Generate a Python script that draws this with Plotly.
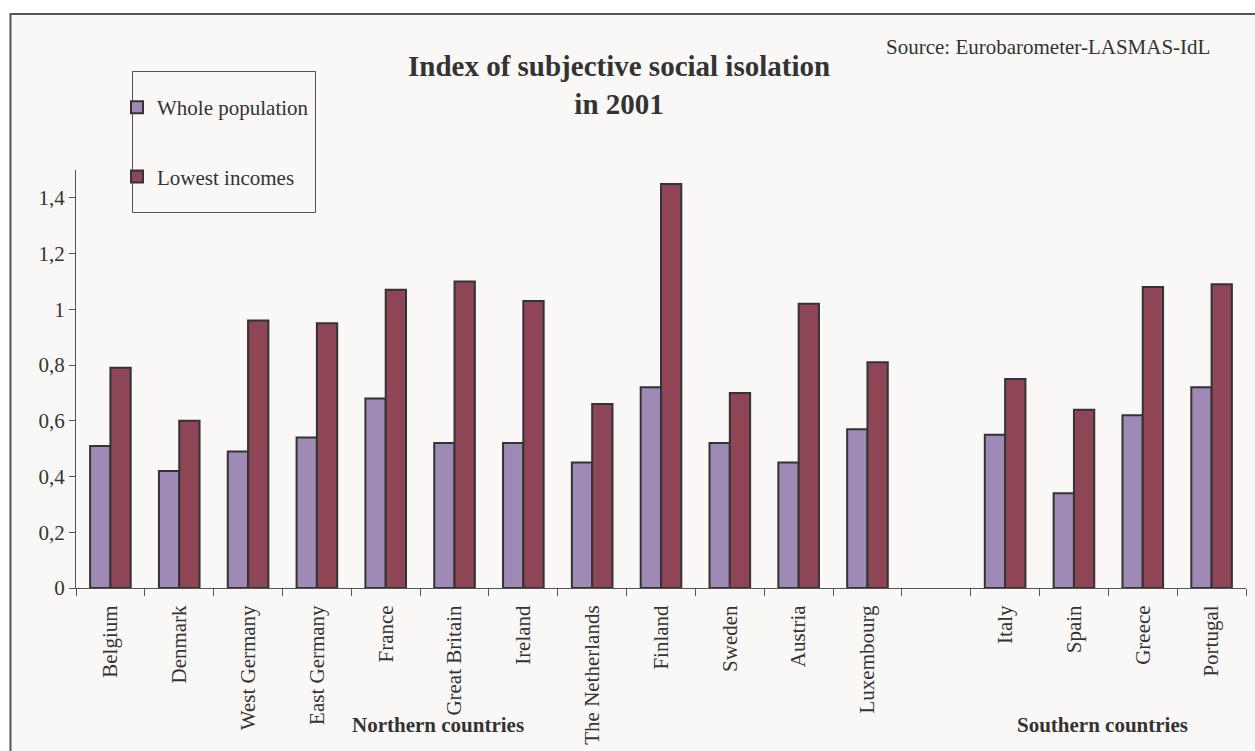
import plotly.graph_objects as go

categories = ["Belgium", "Denmark", "West Germany", "East Germany", "France",
              "Great Britain", "Ireland", "The Netherlands", "Finland", "Sweden",
              "Austria", "Luxembourg", " ", "Italy", "Spain", "Greece", "Portugal"]
whole_population = [0.51, 0.42, 0.49, 0.54, 0.68, 0.52, 0.52, 0.45, 0.72, 0.52,
                    0.45, 0.57, None, 0.55, 0.34, 0.62, 0.72]
lowest_incomes = [0.79, 0.60, 0.96, 0.95, 1.07, 1.10, 1.03, 0.66, 1.45, 0.70,
                  1.02, 0.81, None, 0.75, 0.64, 1.08, 1.09]
y_tickvals = [0, 0.2, 0.4, 0.6, 0.8, 1.0, 1.2, 1.4]
y_ticktext = ["0", "0,2", "0,4", "0,6", "0,8", "1", "1,2", "1,4"]

W, H = 1255, 751
ML, MR, MT, MB = 76, 9, 170, 163
PW = W - ML - MR
PH = H - MT - MB


def px(x):
    return (x - ML) / PW


def py(y):
    return (H - MB - y) / PH


FONT = "Liberation Serif, Times New Roman, serif"
TXT = "#333333"

fig = go.Figure()
fig.add_trace(go.Bar(name="Whole population", x=categories, y=whole_population,
                     marker=dict(color="#9E8AB4", line=dict(color="#333333", width=2)),
                     legendgroup="a"))
fig.add_trace(go.Bar(name="Lowest incomes", x=categories, y=lowest_incomes,
                     marker=dict(color="#8E4555", line=dict(color="#333333", width=2)),
                     legendgroup="b"))

fig.update_layout(
    width=W, height=H,
    margin=dict(l=ML, r=MR, t=MT, b=MB, autoexpand=False),
    paper_bgcolor="white",
    plot_bgcolor="rgba(0,0,0,0)",
    font=dict(family=FONT, size=21, color=TXT),
    barmode="group", bargap=0.41, bargroupgap=0,
    showlegend=True,
    legend=dict(x=px(117), y=py(87), xanchor="left", yanchor="top",
                bgcolor="rgba(0,0,0,0)", borderwidth=0,
                traceorder="grouped", tracegroupgap=39,
                font=dict(family=FONT, size=21, color=TXT)),
    xaxis=dict(type="category", categoryorder="array", categoryarray=categories,
               tickson="boundaries", ticks="outside", ticklen=7, tickcolor="#555555",
               tickangle=-90, ticklabelstandoff=8, automargin=False,
               showline=True, linecolor="#555555", linewidth=1,
               showgrid=False, zeroline=False,
               tickfont=dict(family=FONT, size=21, color=TXT)),
    yaxis=dict(range=[0, 1.5], tickvals=y_tickvals, ticktext=y_ticktext,
               ticks="outside", ticklen=6, tickcolor="#555555", automargin=False,
               showline=True, linecolor="#555555", linewidth=1,
               showgrid=False, zeroline=False,
               tickfont=dict(family=FONT, size=21, color=TXT)),
    shapes=[
        dict(type="rect", xref="paper", yref="paper", layer="below",
             x0=px(10.5), x1=px(1300), y0=py(800), y1=py(14),
             fillcolor="#F9F8F6", line=dict(color="#555555", width=2)),
        dict(type="rect", xref="paper", yref="paper", layer="above",
             x0=px(132.5), x1=px(315.5), y0=py(212.5), y1=py(71.5),
             fillcolor="rgba(0,0,0,0)", line=dict(color="#555555", width=1)),
    ],
    annotations=[
        dict(text="<b>Index of subjective social isolation<br>in 2001</b>",
             xref="paper", yref="paper", x=px(619), y=py(85),
             xanchor="center", yanchor="middle", showarrow=False, align="center",
             font=dict(family=FONT, size=29, color=TXT)),
        dict(text="Source: Eurobarometer-LASMAS-IdL",
             xref="paper", yref="paper", x=px(1212), y=py(47),
             xanchor="right", yanchor="middle", showarrow=False,
             font=dict(family=FONT, size=21, color=TXT)),
        dict(text="<b>Northern countries</b>",
             xref="paper", yref="paper", x=px(438), y=py(725),
             xanchor="center", yanchor="middle", showarrow=False,
             font=dict(family=FONT, size=21, color=TXT)),
        dict(text="<b>Southern countries</b>",
             xref="paper", yref="paper", x=px(1102), y=py(725),
             xanchor="center", yanchor="middle", showarrow=False,
             font=dict(family=FONT, size=21, color=TXT)),
    ],
)

fig.write_html("out.html")
